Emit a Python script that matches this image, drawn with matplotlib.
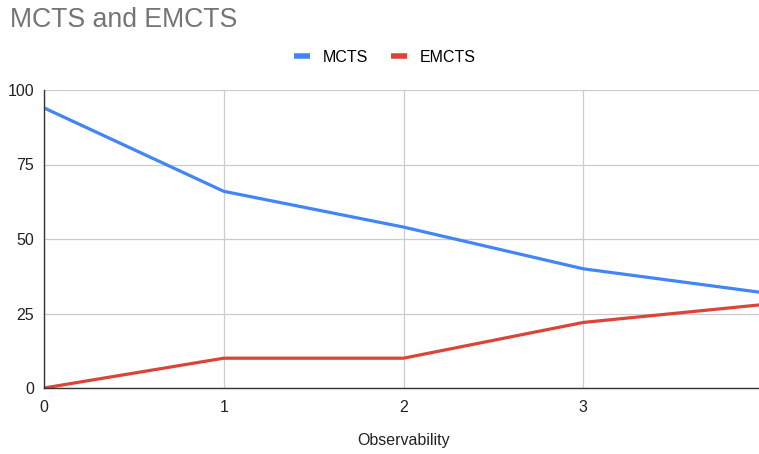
import matplotlib.pyplot as plt

plt.rcParams["font.family"] = ["Liberation Sans", "DejaVu Sans"]

observability = [0, 1, 2, 3, 4]
mcts = [94, 66, 54, 40, 32]
emcts = [0, 10, 10, 22, 28]
y_ticks = [0, 25, 50, 75, 100]

fig = plt.figure(figsize=(7.59, 4.54), dpi=100)
ax = fig.add_axes([44 / 759, 66 / 454, 719 / 759, 298 / 454])

ax.plot(observability, mcts, color="#4285F4", lw=2.3, label="MCTS", solid_capstyle="butt")
ax.plot(observability, emcts, color="#DB4437", lw=2.3, label="EMCTS", solid_capstyle="butt")

ax.set_xlim(0, 4)
ax.set_ylim(0, 100)
ax.set_xticks(observability)
ax.set_yticks(y_ticks)
ax.grid(True, color="#cccccc", lw=0.9)
ax.set_axisbelow(True)
ax.tick_params(length=0, labelsize=11.5, colors="#222222")
ax.tick_params(axis="y", pad=7)
ax.tick_params(axis="x", pad=9)

for side in ["top", "right"]:
    ax.spines[side].set_visible(False)
ax.spines["left"].set_color("#333333")
ax.spines["bottom"].set_color("#333333")
ax.spines["left"].set_linewidth(1.0)
ax.spines["bottom"].set_linewidth(1.0)

ax.set_xlabel("Observability", fontsize=11.5, color="#222222", labelpad=12.5)

fig.text(10 / 759, 1 - 20 / 454, "MCTS and EMCTS", fontsize=19.2, color="#757575",
         ha="left", va="center")

fig.legend(loc="center", bbox_to_anchor=(385 / 759, 1 - 57 / 454), ncol=2, frameon=False,
           fontsize=11.5, handlelength=1.0, handletextpad=0.8, columnspacing=1.4)
for line in fig.legends[0].get_lines():
    line.set_linewidth(4)

fig.savefig("out.png", dpi=100)
